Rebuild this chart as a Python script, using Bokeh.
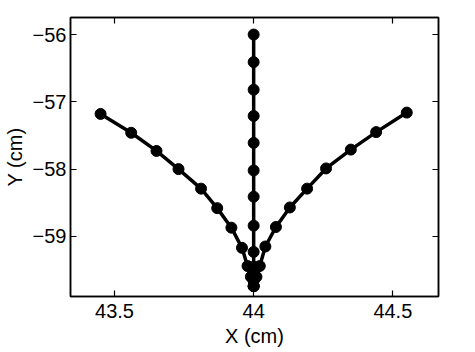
from bokeh.plotting import figure
from bokeh.models import LinearAxis, FixedTicker, Range1d, CustomLabelingPolicy
from bokeh.embed import file_html
from bokeh.resources import INLINE

# Data
left_x = [43.45, 43.56, 43.651, 43.73, 43.811, 43.869, 43.92, 43.958, 43.978, 43.99, 44.0]
left_y = [-57.18, -57.46, -57.73, -58.0, -58.29, -58.58, -58.87, -59.17, -59.44, -59.6, -59.74]
right_x = [44.55, 44.44, 44.349, 44.26, 44.192, 44.13, 44.08, 44.042, 44.022, 44.01, 44.0]
right_y = [-57.16, -57.45, -57.71, -57.99, -58.29, -58.57, -58.86, -59.15, -59.44, -59.6, -59.74]
vert_x = [44.0] * 13
vert_y = [-56.0, -56.41, -56.82, -57.21, -57.61, -58.02, -58.41, -58.84, -59.23, -59.45, -59.58, -59.66, -59.74]

x_ticks = [43.5, 44.0, 44.5]
x_tick_labels = ["43.5", "44", "44.5"]
y_ticks = [-56, -57, -58, -59]
y_tick_labels = ["\u221256", "\u221257", "\u221258", "\u221259"]

FONT = "Liberation Sans"

p = figure(frame_width=368, frame_height=279, output_backend="svg", toolbar_location=None,
           x_range=Range1d(43.342, 44.664), y_range=Range1d(-59.893, -55.747),
           min_border_left=66, min_border_right=20, min_border_top=7, min_border_bottom=50)
p.grid.visible = False
p.outline_line_color = "black"
p.outline_line_width = 1.5
p.background_fill_color = "white"
p.border_fill_color = "white"

for series_x, series_y in [(left_x, left_y), (right_x, right_y), (vert_x, vert_y)]:
    p.line(series_x, series_y, line_color="black", line_width=3.5)
    p.scatter(series_x, series_y, size=11, fill_color="black", line_color="black")

def style_axis(ax, ticks, labels):
    ax.ticker = FixedTicker(ticks=ticks)
    ax.major_label_overrides = {t: l for t, l in zip(ticks, labels)}
    ax.major_tick_in = 6
    ax.major_tick_out = 0
    ax.minor_tick_line_color = None
    ax.axis_line_color = "black"
    ax.axis_line_width = 1.5
    ax.major_tick_line_width = 1.2
    ax.major_label_text_font = FONT
    ax.major_label_text_font_size = "20px"
    ax.major_label_text_color = "black"
    ax.axis_label_text_font = FONT
    ax.axis_label_text_font_size = "20px"
    ax.axis_label_text_font_style = "normal"
    ax.axis_label_text_color = "black"

xa = p.xaxis[0]
style_axis(xa, x_ticks, x_tick_labels)
xa.axis_label = "X (cm)"
xa.major_label_standoff = 7
xa.axis_label_standoff = 4

ya = p.yaxis[0]
style_axis(ya, y_ticks, y_tick_labels)
ya.axis_label = "Y (cm)"
ya.major_label_standoff = 4
ya.axis_label_standoff = 4

no_labels = CustomLabelingPolicy(code="""
    for (const i of Array.from(indices)) { indices.unset(i) }
    return indices
""")

top = LinearAxis()
style_axis(top, x_ticks, x_tick_labels)
top.major_label_policy = no_labels
top.major_label_standoff = 0
p.add_layout(top, "above")

right = LinearAxis()
style_axis(right, y_ticks, y_tick_labels)
right.major_label_policy = no_labels
right.major_label_standoff = 0
p.add_layout(right, "right")

open("out.html", "w").write(file_html(p, INLINE))
